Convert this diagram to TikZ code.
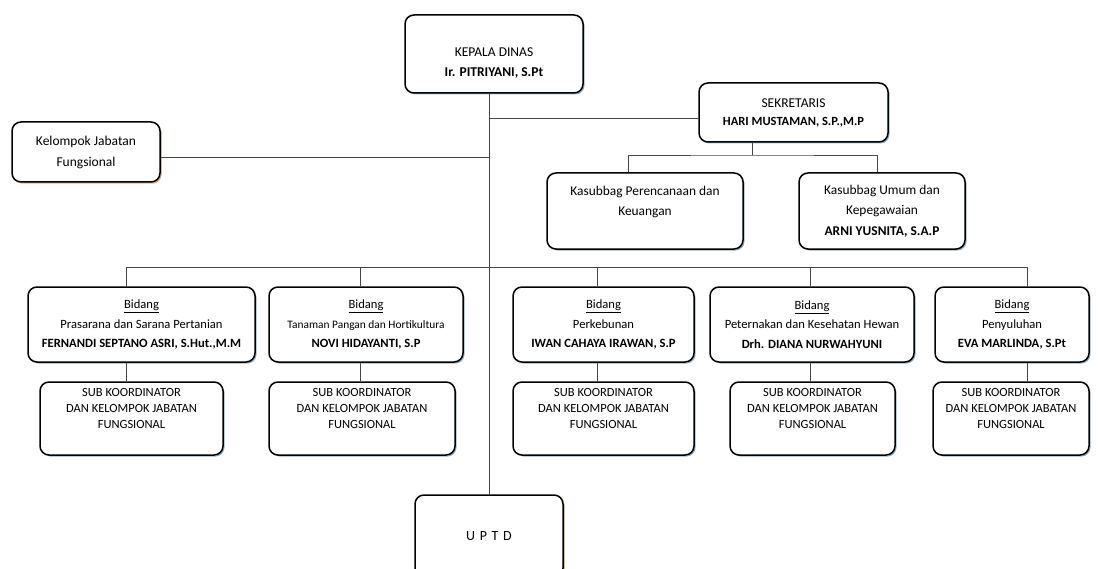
\documentclass[tikz,border=0pt]{standalone}
\usepackage{fontspec}
\setmainfont{Carlito}
\usetikzlibrary{shadows}
\definecolor{shadowblue}{RGB}{150,175,195}
\definecolor{shadoworange}{RGB}{225,175,130}
\definecolor{linegray}{RGB}{70,70,70}
\tikzset{
  box/.style={draw, rounded corners=9pt, line width=1.5pt, fill=white, align=center, inner sep=2pt,
    drop shadow={shadow xshift=1.5pt, shadow yshift=-1.5pt, fill=shadowblue, opacity=1}},
  orangebox/.style={box, drop shadow={shadow xshift=1.5pt, shadow yshift=-1.5pt, fill=shadoworange, opacity=1}},
  bidangbox/.style={box, minimum height=75pt, font=\fontsize{12.6}{19.5}\selectfont},
  subbox/.style={box, minimum height=73pt, font=\fontsize{12.5}{16}\selectfont},
  link/.style={draw=linegray, line width=0.8pt},
}
\begin{document}
\begin{tikzpicture}[x=1pt,y=-1pt]
\useasboundingbox (0,0) rectangle (1099,569);
\coordinate (t) at (489,0);
\coordinate (jS) at (489,118);
\coordinate (jK) at (489,157);
\coordinate (jX) at (752,155);
\coordinate (bus) at (126,267);

\node[box, minimum width=178pt, minimum height=78pt, font=\fontsize{13.5}{20}\selectfont] (kepala) at (494,54) {\mbox{}\\[6pt]KEPALA DINAS\\\textbf{Ir. PITRIYANI, S.Pt}};
\node[box, minimum width=189pt, minimum height=59pt, font=\fontsize{13.5}{18}\selectfont] (sekretaris) at (793.5,112.5) {SEKRETARIS\\\textbf{\fontsize{12.5}{18}\selectfont HARI MUSTAMAN, S.P.,M.P}};
\node[orangebox, minimum width=148pt, minimum height=60pt, font=\fontsize{13.5}{21}\selectfont] (kelompok) at (86,152) {Kelompok Jabatan\\Fungsional};
\node[box, minimum width=196pt, minimum height=76pt, font=\fontsize{13.4}{20.5}\selectfont] (kasP) at (645,211) {Kasubbag Perencanaan dan\\Keuangan\\\mbox{}};
\node[box, minimum width=166pt, minimum height=76pt, font=\fontsize{13.4}{20.5}\selectfont] (kasU) at (882,211) {Kasubbag Umum dan\\Kepegawaian\\\textbf{ARNI YUSNITA, S.A.P}};

\node[bidangbox, minimum width=227pt] (b1) at (141.5,324.5) {\underline{Bidang}\\Prasarana dan Sarana Pertanian\\\textbf{FERNANDI SEPTANO ASRI, S.Hut.,M.M}};
\node[bidangbox, minimum width=194pt] (b2) at (366,324.5) {\underline{Bidang}\\{\fontsize{11.4}{19.5}\selectfont Tanaman Pangan dan Hortikultura}\\\textbf{NOVI HIDAYANTI, S.P}};
\node[bidangbox, minimum width=181pt] (b3) at (603.5,324.5) {\underline{Bidang}\\Perkebunan\\\textbf{IWAN CAHAYA IRAWAN, S.P}};
\node[bidangbox, minimum width=204pt] (b4) at (812,324.5) {\underline{Bidang}\\Peternakan dan Kesehatan Hewan\\\textbf{Drh. DIANA NURWAHYUNI}};
\node[bidangbox, minimum width=154pt] (b5) at (1012,324.5) {\underline{Bidang}\\Penyuluhan\\\textbf{EVA MARLINDA, S.Pt}};

\node[subbox, minimum width=183pt] (s1) at (131.5,418.5) {SUB KOORDINATOR\\DAN KELOMPOK JABATAN\\FUNGSIONAL\\[4pt]\mbox{}};
\node[subbox, minimum width=186pt] (s2) at (362,418.5) {SUB KOORDINATOR\\DAN KELOMPOK JABATAN\\FUNGSIONAL\\[4pt]\mbox{}};
\node[subbox, minimum width=181pt] (s3) at (603.5,418.5) {SUB KOORDINATOR\\DAN KELOMPOK JABATAN\\FUNGSIONAL\\[4pt]\mbox{}};
\node[subbox, minimum width=165pt] (s4) at (812.5,418.5) {SUB KOORDINATOR\\DAN KELOMPOK JABATAN\\FUNGSIONAL\\[4pt]\mbox{}};
\node[subbox, minimum width=156pt] (s5) at (1011,418.5) {SUB KOORDINATOR\\DAN KELOMPOK JABATAN\\FUNGSIONAL\\[4pt]\mbox{}};

\node[orangebox, minimum width=148pt, minimum height=82pt, font=\fontsize{14}{16}\selectfont] (uptd) at (489,536) {\mbox{}\\[-6pt]U\,\,P\,\,T\,\,D};

\path[link] (t |- kepala.south) -- (t |- uptd.north);
\path[link] (jS) -- (jS -| sekretaris.west);
\path[link] (jK) -- (jK -| kelompok.east);
\path[link] (jX |- sekretaris.south) -- (jX);
\path[link] (kasP.north -| 628,0) |- (jX) -| (kasU.north -| 877,0);
\path[link] (bus) -- (1027,267);
\foreach \x/\b/\s in {126/b1/s1, 360/b2/s2, 597/b3/s3, 810/b4/s4, 1027/b5/s5} {
  \path[link] (\x,267) -- (\x,0 |- \b.north);
  \path[link] (\x,0 |- \b.south) -- (\x,0 |- \s.north);
}
\end{tikzpicture}
\end{document}
